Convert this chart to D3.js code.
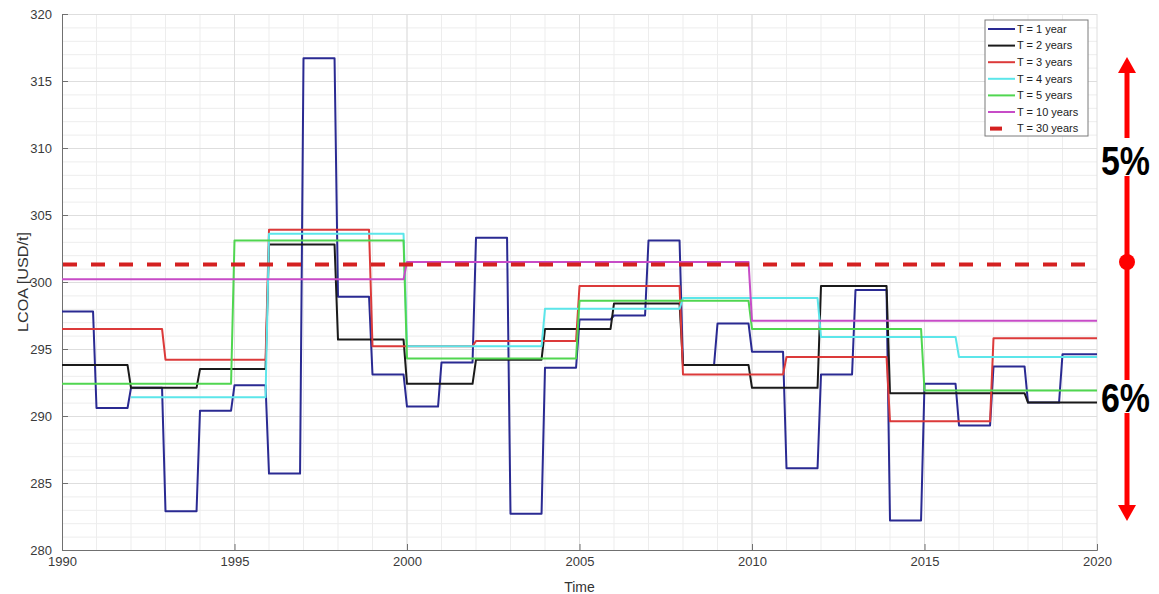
<!DOCTYPE html>
<html><head><meta charset="utf-8">
<script src="https://cdn.jsdelivr.net/npm/d3@7"></script>
<style>
html,body{margin:0;padding:0;background:#fff;}
svg{display:block;}
</style></head>
<body>
<script>
// ---- data ----
const seriesNames = ["T = 1 year","T = 2 years","T = 3 years","T = 4 years","T = 5 years","T = 10 years","T = 30 years"];
const startsT1 = [1990,1991,1992,1993,1994,1995,1996,1997,1998,1999,2000,2001,2002,2003,2004,2005,2006,2007,2008,2009,2010,2011,2012,2013,2014,2015,2016,2017,2018,2019];
const valuesT1 = [297.8,290.6,292.1,282.9,290.4,292.3,285.7,316.7,298.9,293.1,290.7,294.0,303.3,282.7,293.6,297.2,297.5,303.1,293.8,296.9,294.8,286.1,293.1,299.4,282.2,292.4,289.3,293.7,291.0,294.6];
const startsT2 = [1990,1992,1994,1996,1998,2000,2002,2004,2006,2008,2010,2012,2014,2016,2018];
const valuesT2 = [293.8,292.1,293.5,302.8,295.7,292.4,294.2,296.5,298.4,293.8,292.1,299.7,291.7,291.7,291.0];
const startsT3 = [1990,1993,1996,1999,2002,2005,2008,2011,2014,2017];
const valuesT3 = [296.5,294.2,303.9,295.2,295.6,299.7,293.1,294.4,289.6,295.8];
const startsT4 = [1992,1996,2000,2004,2008,2012,2016];
const valuesT4 = [291.4,303.6,295.2,298.0,298.8,295.9,294.4];
const startsT5 = [1990,1995,2000,2005,2010,2015];
const valuesT5 = [292.4,303.1,294.3,298.6,296.5,291.9];
const startsT10 = [1990,2000,2010];
const valuesT10 = [300.2,301.5,297.1];
const startsT30 = [1990];
const valuesT30 = [301.3];
const xTicks = [1990,1995,2000,2005,2010,2015,2020];
const yTicks = [280,285,290,295,300,305,310,315,320];
const annotLabels = ["5%","6%"];

// ---- layout ----
const W = 1159, H = 594;
const L = 62, R = 1097, T = 14, B = 550;
const colors = ["#2a2a92","#1a1a1a","#dc3a3a","#5ce6ea","#50d650","#c74cc7","#d42020"];

const svg = d3.select("body").append("svg").attr("width",W).attr("height",H)
  .style("font-family","Liberation Sans, Arial, sans-serif");

const x = d3.scaleLinear().domain([1990,2020]).range([L,R]);
const y = d3.scaleLinear().domain([280,320]).range([B,T]);

// grid
const g = svg.append("g");
g.selectAll(".vminor").data(d3.range(1991,2020)).join("line")
  .attr("x1",d=>x(d)).attr("x2",d=>x(d)).attr("y1",T).attr("y2",B)
  .attr("stroke","#ededed").attr("stroke-width",1);
g.selectAll(".hminor").data(d3.range(281,320)).join("line")
  .attr("y1",d=>y(d)+0.5).attr("y2",d=>y(d)+0.5).attr("x1",L).attr("x2",R)
  .attr("stroke","#ededed").attr("stroke-width",1);
g.selectAll(".vmajor").data(xTicks.slice(1)).join("line")
  .attr("x1",d=>x(d)).attr("x2",d=>x(d)).attr("y1",T).attr("y2",B)
  .attr("stroke","#dedede").attr("stroke-width",1);
g.selectAll(".hmajor").data(yTicks.slice(1)).join("line")
  .attr("y1",d=>y(d)+0.5).attr("y2",d=>y(d)+0.5).attr("x1",L).attr("x2",R)
  .attr("stroke","#dedede").attr("stroke-width",1);

// axes
const yAxis = d3.axisLeft(y).tickValues(yTicks).tickSize(-6).tickPadding(10).tickFormat(d3.format("d"));
const xAxis = d3.axisBottom(x).tickValues(xTicks).tickSize(-6).tickPadding(10).tickFormat(d3.format("d"));
const ya = svg.append("g").attr("transform",`translate(${L},0)`).call(yAxis);
const xa = svg.append("g").attr("transform",`translate(0,${B})`).call(xAxis);
[ya,xa].forEach(a=>{
  a.select(".domain").attr("stroke","#707070");
  a.selectAll(".tick line").attr("stroke","#707070");
  a.selectAll("text").attr("fill","#3a3a3a").style("font-size","13px");
});
xa.selectAll("text").attr("dy","0.45em");

svg.append("text").attr("x",(L+R)/2).attr("y",592).attr("text-anchor","middle")
  .attr("fill","#333").style("font-size","14px").text("Time");
svg.append("text").attr("transform",`translate(28,${(T+B)/2}) rotate(-90)`).attr("text-anchor","middle")
  .attr("textLength",100).attr("lengthAdjust","spacingAndGlyphs")
  .attr("fill","#333").style("font-size","14px").text("LCOA [USD/t]");

// step lines with short slanted transitions
function stepPoints(starts, values, end){
  const pts = [];
  const slant = 0.1;
  starts.forEach((t0,i)=>{
    const t1 = i < starts.length-1 ? starts[i+1] : end;
    pts.push([t0, values[i]]);
    pts.push([i < starts.length-1 ? t1 - slant : t1, values[i]]);
  });
  return pts;
}
const allSeries = [
  [startsT1,valuesT1],[startsT2,valuesT2],[startsT3,valuesT3],[startsT4,valuesT4],
  [startsT5,valuesT5],[startsT10,valuesT10],[startsT30,valuesT30]
];
const line = d3.line().x(d=>x(d[0])).y(d=>y(d[1]));
const lines = svg.append("g");
allSeries.forEach((s,i)=>{
  const p = lines.append("path").datum(stepPoints(s[0],s[1],2020)).attr("d",line)
    .attr("fill","none").attr("stroke",colors[i]).attr("stroke-linejoin","round");
  if(i===6){ p.attr("stroke-width",4).attr("stroke-dasharray","14,14").attr("stroke-dashoffset",-1); }
  else p.attr("stroke-width",2);
});

// legend
const lg = svg.append("g").attr("transform","translate(985,20)");
lg.append("rect").attr("x",0).attr("y",0).attr("width",103).attr("height",116)
  .attr("fill","#fff").attr("stroke","#7a7a7a").attr("stroke-width",1);
seriesNames.forEach((n,i)=>{
  const yy = 9 + i*16.6;
  if(i===6){
    lg.append("line").attr("x1",5).attr("x2",17).attr("y1",yy).attr("y2",yy)
      .attr("stroke",colors[i]).attr("stroke-width",4);
  } else {
    lg.append("line").attr("x1",3).attr("x2",30).attr("y1",yy).attr("y2",yy)
      .attr("stroke",colors[i]).attr("stroke-width",2);
  }
  lg.append("text").attr("x",32).attr("y",yy).attr("dy","0.35em")
    .attr("fill","#222").style("font-size","11px").text(n);
});

// annotation
const ax = 1127, red = "#ff0000";
const an = svg.append("g");
[[72,138],[176,380],[413,506]].forEach(s=>{
  an.append("line").attr("x1",ax).attr("x2",ax).attr("y1",s[0]).attr("y2",s[1])
    .attr("stroke",red).attr("stroke-width",5);
});
an.append("path").attr("d",`M${ax},57 L${ax-9},73 L${ax+9},73 Z`).attr("fill",red);
an.append("path").attr("d",`M${ax},521 L${ax-9},505 L${ax+9},505 Z`).attr("fill",red);
an.append("circle").attr("cx",ax).attr("cy",262).attr("r",8).attr("fill",red);
[[175,annotLabels[0]],[412,annotLabels[1]]].forEach(d=>{
  an.append("text").attr("x",1101).attr("y",d[0]).attr("textLength",49).attr("lengthAdjust","spacingAndGlyphs")
    .style("font-size","41px").style("font-weight","bold").attr("fill","#000").text(d[1]);
});
</script>
</body></html>
